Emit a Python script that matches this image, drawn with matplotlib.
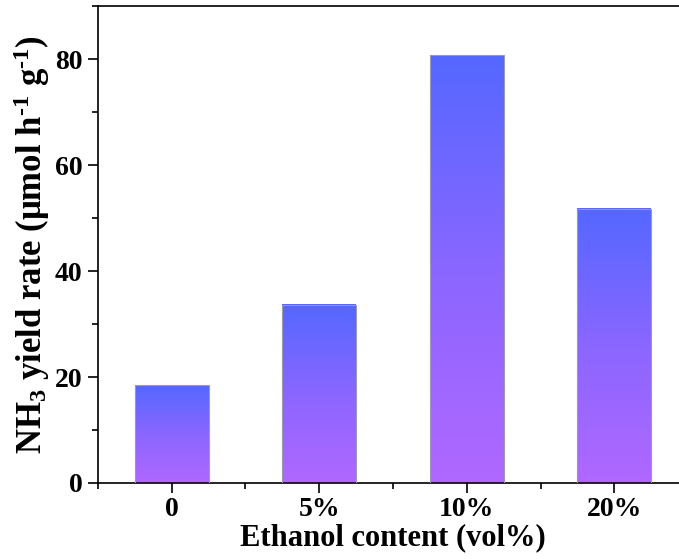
import matplotlib
matplotlib.use("Agg")
import matplotlib.pyplot as plt
import numpy as np
from matplotlib.colors import LinearSegmentedColormap
from matplotlib.ticker import MultipleLocator, FixedLocator

categories = ["0", "5%", "10%", "20%"]
values = [18.4, 33.6, 80.7, 51.8]
yticks = [0, 20, 40, 60, 80]

plt.rcParams['font.family'] = ['Liberation Serif', 'DejaVu Serif']
plt.rcParams['font.weight'] = 'bold'
plt.rcParams['mathtext.fontset'] = 'custom'
plt.rcParams['mathtext.rm'] = 'Liberation Serif:bold'
plt.rcParams['mathtext.it'] = 'Liberation Serif:bold'
plt.rcParams['mathtext.bf'] = 'Liberation Serif:bold'

fig = plt.figure(figsize=(6.79, 5.59), dpi=100)
ax = fig.add_axes([0.1443, 0.136, 0.869, 0.853])

x = np.arange(len(categories))
bars = ax.bar(x, values, width=0.5, facecolor='none', edgecolor='#9a9ab0', linewidth=0.8, zorder=3)

cmap = LinearSegmentedColormap.from_list('g', ['#b068ff', '#8a66ff', '#5468ff'])
grad = np.linspace(0, 1, 256).reshape(-1, 1)
for b in bars:
    x0, w, h = b.get_x(), b.get_width(), b.get_height()
    ax.imshow(grad, cmap=cmap, aspect='auto', origin='lower',
              extent=[x0, x0 + w, 0, h], zorder=2, interpolation='bilinear')

ax.set_xlim(-0.5, 3.5)
ax.set_ylim(0, 90)
ax.set_xticks(x)
ax.set_xticklabels(categories)
ax.xaxis.set_minor_locator(FixedLocator([-0.5, 0.5, 1.5, 2.5]))
ax.set_yticks(yticks)
ax.yaxis.set_minor_locator(MultipleLocator(10))

for s in ['left', 'bottom', 'top']:
    ax.spines[s].set_linewidth(1.2)
ax.spines['right'].set_visible(False)

ax.tick_params(axis='both', which='major', direction='out', length=7, width=1.2, labelsize=20, pad=4)
ax.tick_params(axis='both', which='minor', direction='out', length=4, width=1.2)
ax.tick_params(axis='x', which='both', top=False)
ax.tick_params(axis='x', which='major', pad=3)
for lab in ax.get_xticklabels() + ax.get_yticklabels():
    lab.set_fontweight('bold')

ax.set_xlabel('Ethanol content (vol%)', fontsize=22, fontweight='bold', labelpad=1)
ax.set_ylabel('NH$_3$ yield rate (\u03bcmol h$^{\u2010 1}$ g$^{\u2010 1}$)',
              fontsize=25, fontweight='bold', labelpad=2)

fig.savefig('out.png', dpi=100)
